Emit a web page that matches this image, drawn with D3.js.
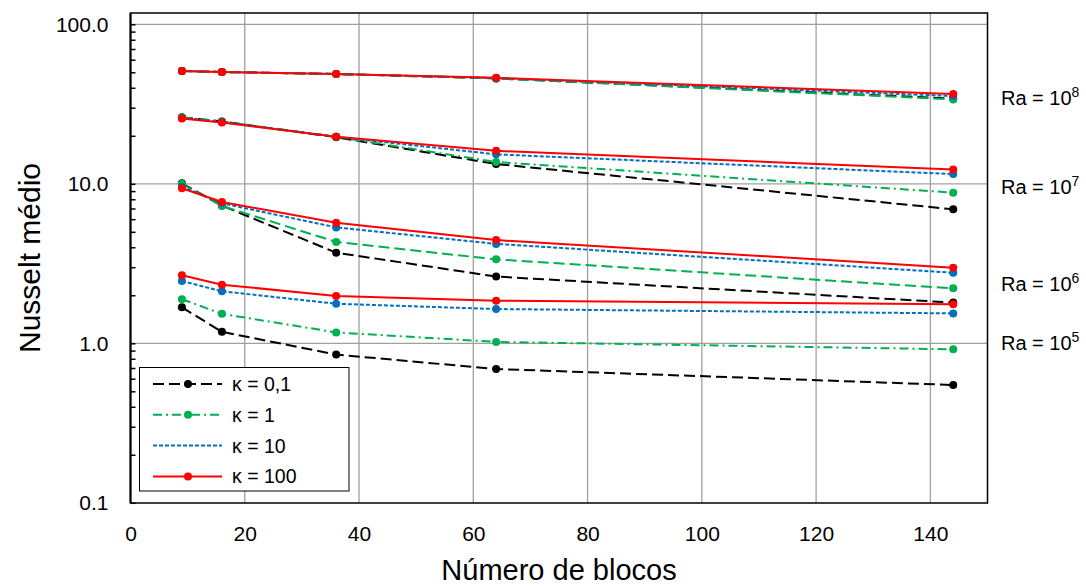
<!DOCTYPE html>
<html lang="pt-BR">
<head>
<meta charset="UTF-8">
<title>Nusselt médio x Número de blocos</title>
<script src="https://d3js.org/d3.v7.min.js"></script>
<style>
    body { margin: 0; background: #fff; }
    svg { display: block; font-family: "Liberation Sans", Arial, sans-serif; }
    .grid line { stroke: #a0a0a0; stroke-width: 1.3; }
    .axis text { fill: #000; font-size: 21px; }
</style>
</head>
<body>
<svg id="chart" width="1086" height="587"></svg>
<script>
    // --- DADOS ---
    const blocos = [9, 16, 36, 64, 144];
    const xTicks = [0, 20, 40, 60, 80, 100, 120, 140];
    const yTicks = [0.1, 1, 10, 100];

    // Ra = 10^5
    const ra5_k01 = [1.68, 1.18, 0.85, 0.69, 0.548];
    const ra5_k1 = [1.89, 1.53, 1.17, 1.02, 0.917];
    const ra5_k10 = [2.46, 2.12, 1.77, 1.64, 1.54];
    const ra5_k100 = [2.67, 2.33, 1.98, 1.85, 1.76];
    // Ra = 10^6
    const ra6_k01 = [10.07, 7.3, 3.70, 2.62, 1.80];
    const ra6_k1 = [10.0, 7.26, 4.32, 3.36, 2.21];
    const ra6_k10 = [9.6, 7.55, 5.33, 4.20, 2.77];
    const ra6_k100 = [9.37, 7.69, 5.70, 4.44, 2.98];
    // Ra = 10^7
    const ra7_k01 = [26.1, 24.6, 19.6, 13.3, 6.92];
    const ra7_k1 = [26.1, 24.6, 19.7, 13.7, 8.8];
    const ra7_k10 = [25.9, 24.4, 19.7, 15.3, 11.5];
    const ra7_k100 = [25.7, 24.2, 19.7, 16.1, 12.3];
    // Ra = 10^8
    const ra8_k01 = [51.0, 50.2, 48.8, 45.8, 34.2];
    const ra8_k1 = [51.0, 50.2, 48.8, 45.8, 33.8];
    const ra8_k10 = [51.0, 50.2, 48.8, 46.0, 35.5];
    const ra8_k100 = [51.0, 50.2, 48.8, 46.2, 36.6];

    const raLabels = ["8", "7", "6", "5"];
    const raLabelY = [98, 187, 284, 343];
    const kappaLabels = ["κ = 0,1", "κ = 1", "κ = 10", "κ = 100"];

    // --- ESTILOS ---
    const cores = ["#000000", "#00b050", "#0070c0", "#ff0000"];
    const tracos = {
        longo: "11,5",
        tracoPonto: "9,4,2,4",
        curto: "4,2",
        cheio: null
    };

    const series = [
        { v: ra5_k01, k: 0, d: tracos.longo }, { v: ra5_k1, k: 1, d: tracos.tracoPonto },
        { v: ra5_k10, k: 2, d: tracos.curto }, { v: ra5_k100, k: 3, d: tracos.cheio },
        { v: ra6_k01, k: 0, d: tracos.longo }, { v: ra6_k1, k: 1, d: tracos.longo },
        { v: ra6_k10, k: 2, d: tracos.curto }, { v: ra6_k100, k: 3, d: tracos.cheio },
        { v: ra7_k01, k: 0, d: tracos.longo }, { v: ra7_k1, k: 1, d: tracos.tracoPonto },
        { v: ra7_k10, k: 2, d: tracos.curto }, { v: ra7_k100, k: 3, d: tracos.cheio },
        { v: ra8_k01, k: 0, d: tracos.longo }, { v: ra8_k1, k: 1, d: tracos.longo },
        { v: ra8_k10, k: 2, d: tracos.curto }, { v: ra8_k100, k: 3, d: tracos.cheio }
    ];
    // desenha por kappa, vermelho por cima
    series.sort((a, b) => a.k - b.k);

    // --- GRÁFICO ---
    const svg = d3.select("#chart");
    const plot = { left: 130.5, right: 987.5, top: 13, bottom: 503 };

    const x = d3.scaleLinear().domain([0, 150]).range([plot.left, plot.right]);
    const y = d3.scaleLog().domain([0.1, 100]).range([502.8, 24.3]);

    // grade
    const grid = svg.append("g").attr("class", "grid");
    grid.selectAll(".gx").data(xTicks.slice(1)).join("line")
        .attr("x1", d => x(d)).attr("x2", d => x(d))
        .attr("y1", plot.top).attr("y2", plot.bottom);
    grid.selectAll(".gy").data(yTicks.slice(1)).join("line")
        .attr("x1", plot.left).attr("x2", plot.right)
        .attr("y1", d => y(d)).attr("y2", d => y(d));

    // moldura
    svg.append("rect")
        .attr("x", plot.left).attr("y", plot.top)
        .attr("width", plot.right - plot.left).attr("height", plot.bottom - plot.top)
        .attr("fill", "none").attr("stroke", "#000").attr("stroke-width", 1.5);

    // eixo y (log, com ticks menores para dentro)
    const minorTicks = [];
    [0.1, 1, 10].forEach(base => { for (let i = 1; i < 10; i++) minorTicks.push(base * i); });
    minorTicks.push(100);
    const yAxis = svg.append("g").attr("class", "axis")
        .attr("transform", `translate(${plot.left},0)`)
        .call(d3.axisLeft(y).tickValues(minorTicks).tickSize(-5).tickPadding(22)
            .tickFormat(d => yTicks.includes(d) ? d3.format(".1f")(d) : ""));
    yAxis.select(".domain").attr("stroke-width", 2).attr("d", `M0,${plot.top}V${plot.bottom}`);
    yAxis.selectAll(".tick line").attr("stroke-width", 1.5);

    // eixo x
    const xAxis = svg.append("g").attr("class", "axis")
        .attr("transform", `translate(0,${plot.bottom})`)
        .call(d3.axisBottom(x).tickValues(xTicks).tickSize(0).tickPadding(23));
    xAxis.select(".domain").remove();

    // linhas
    const line = d3.line().x((d, i) => x(blocos[i])).y(d => y(d));
    const g = svg.append("g");
    series.forEach(s => {
        g.append("path").datum(s.v)
            .attr("fill", "none")
            .attr("stroke", cores[s.k])
            .attr("stroke-width", 2)
            .attr("stroke-dasharray", s.d)
            .attr("d", line);
        g.selectAll(null).data(s.v).join("circle")
            .attr("cx", (d, i) => x(blocos[i]))
            .attr("cy", d => y(d))
            .attr("r", 4)
            .attr("fill", cores[s.k]);
    });

    // rótulos Ra
    raLabels.forEach((e, i) => {
        const t = svg.append("text")
            .attr("x", 1001).attr("y", raLabelY[i] + 7)
            .attr("font-size", 20);
        t.append("tspan").text("Ra = 10");
        t.append("tspan").attr("font-size", 14).attr("dy", -8).text(e);
    });

    // legenda
    const leg = svg.append("g");
    leg.append("rect")
        .attr("x", 139.5).attr("y", 367.5).attr("width", 209.5).attr("height", 123.5)
        .attr("fill", "#fff").attr("stroke", "#000").attr("stroke-width", 1);
    const legDash = [tracos.longo, tracos.tracoPonto, tracos.curto, tracos.cheio];
    kappaLabels.forEach((lab, i) => {
        const ly = 384 + i * 30.8;
        leg.append("line")
            .attr("x1", 153).attr("x2", 222).attr("y1", ly).attr("y2", ly)
            .attr("stroke", cores[i]).attr("stroke-width", 2)
            .attr("stroke-dasharray", legDash[i]);
        if (i !== 2) {
            leg.append("circle").attr("cx", 188).attr("cy", ly).attr("r", 4).attr("fill", cores[i]);
        }
        leg.append("text").attr("x", 232).attr("y", ly + 7)
            .attr("font-size", 19.5).text(lab);
    });

    // títulos
    svg.append("text")
        .attr("x", (plot.left + plot.right) / 2).attr("y", 580)
        .attr("text-anchor", "middle").attr("font-size", 29)
        .text("Número de blocos");
    svg.append("text")
        .attr("transform", `translate(40,${(plot.top + plot.bottom) / 2}) rotate(-90)`)
        .attr("text-anchor", "middle").attr("font-size", 30)
        .text("Nusselt médio");
</script>
</body>
</html>
